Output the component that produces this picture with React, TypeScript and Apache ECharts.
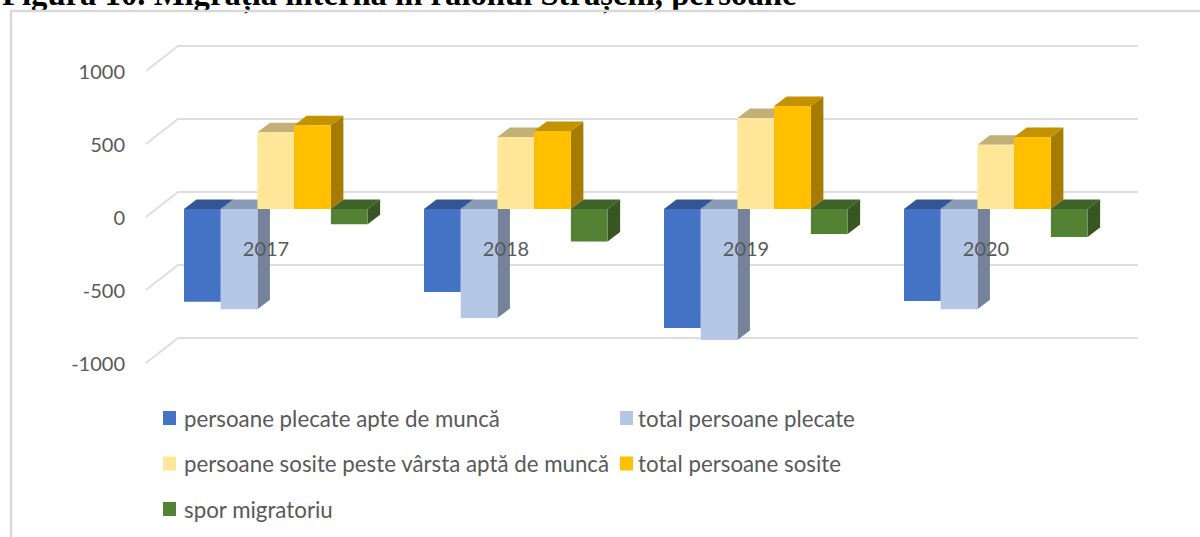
import React, { useEffect, useRef } from "react";
import * as echarts from "echarts";

const titleText = "Figura 10. Migrația internă în raionul Strășeni, persoane";
const years = ["2017", "2018", "2019", "2020"];
const gridTicks = [1000, 500, 0, -500, -1000];

const seriesNames = [
  "persoane plecate apte de muncă",
  "total persoane plecate",
  "persoane sosite peste vârsta aptă de muncă",
  "total persoane sosite",
  "spor migratoriu",
];
const plecateApte = [-635, -568, -815, -630];
const totalPlecate = [-687, -747, -897, -687];
const sositePeste = [525, 493, 623, 440];
const totalSosite = [573, 534, 705, 493];
const sporMigratoriu = [-105, -223, -171, -192];
const allValues = [plecateApte, totalPlecate, sositePeste, totalSosite, sporMigratoriu];

const frontColors = ["#4472c4", "#b4c7e7", "#ffe699", "#ffc000", "#548235"];
const topColors = ["#325594", "#8a9bb6", "#c2b076", "#c29200", "#3f6229"];
const sideColors = ["#2f5090", "#748399", "#b5a46e", "#a67c00", "#375623"];

const FONT = "Lato";
const TEXT = "#595959";

export default function App() {
  const ref = useRef<HTMLDivElement>(null);
  useEffect(() => {
    document.body.style.margin = "0";
    const chart = echarts.init(ref.current!, null, { renderer: "svg" });

    const barSeries = allValues.map((vals, s) => ({
      type: "custom",
      name: seriesNames[s],
      z: 3 + s,
      clip: false,
      itemStyle: { color: frontColors[s] },
      encode: { x: 0, y: 1 },
      data: vals.map((v, i) => [i, v]),
      renderItem: (params: any, api: any) => {
        const band = api.size([1, 0])[0];
        const p = api.coord([api.value(0), api.value(1)]);
        const z0 = api.coord([api.value(0), 0]);
        const w = band * 0.153;
        const dx = 10.5, dy = -8, ddx = 12.5, ddy = -9.5;
        const x0 = z0[0] - band / 2 + band * 0.1146 + dx + s * w;
        const x1 = x0 + w;
        const yz = z0[1] + dy;
        const yv = p[1] + dy;
        const top = Math.min(yz, yv);
        const bottom = Math.max(yz, yv);
        const poly = (points: number[][], fill: string) => ({
          type: "polygon",
          shape: { points },
          style: { fill },
        });
        return {
          type: "group",
          children: [
            poly([[x1, top], [x1 + ddx, top + ddy], [x1 + ddx, bottom + ddy], [x1, bottom]], sideColors[s]),
            poly([[x0, top], [x0 + ddx, top + ddy], [x1 + ddx, top + ddy], [x1, top]], topColors[s]),
            poly([[x0, top], [x1, top], [x1, bottom], [x0, bottom]], frontColors[s]),
          ],
        };
      },
    }));

    const wallSeries = {
      type: "custom",
      name: "grid",
      z: 1,
      clip: false,
      silent: true,
      encode: { y: 0 },
      data: gridTicks.map((t) => [t]),
      renderItem: (params: any, api: any) => {
        const r = params.coordSys;
        const y = api.coord([0, api.value(0)])[1];
        return {
          type: "polyline",
          shape: {
            points: [
              [r.x, y],
              [r.x + 32, y - 25],
              [r.x + r.width + 32, y - 25],
            ],
          },
          style: { fill: "none", stroke: "#dedede", lineWidth: 2 },
        };
      },
    };

    const legendBase = {
      orient: "vertical",
      icon: "rect",
      itemWidth: 13,
      itemHeight: 14,
      itemGap: 23.5,
      selectedMode: false,
    };
    const legendText = (padLeft: number) => ({
      fontFamily: FONT,
      fontSize: 22.3,
      color: TEXT,
      lineHeight: 20,
      padding: [0, 0, 0, padLeft],
    });

    chart.setOption({
      animation: false,
      backgroundColor: "#ffffff",
      title: {
        text: titleText,
        left: 2,
        top: -23,
        padding: 0,
        textStyle: {
          fontFamily: "Liberation Serif",
          fontWeight: "bold",
          fontSize: 32.7,
          color: "#000000",
        },
      },
      grid: { left: 146, top: 71, width: 960, height: 292 },
      xAxis: {
        type: "category",
        data: years,
        z: 20,
        offset: -146,
        axisLine: { show: false, onZero: false },
        axisTick: { show: false },
        axisLabel: { margin: 21, fontFamily: FONT, fontSize: 20, color: TEXT },
      },
      yAxis: {
        type: "value",
        min: -1000,
        max: 1000,
        interval: 500,
        splitLine: { show: false },
        axisLine: { show: false },
        axisTick: { show: false },
        axisLabel: {
          margin: 21,
          fontFamily: FONT,
          fontSize: 20,
          color: TEXT,
          formatter: (v: number) => String(v),
        },
      },
      legend: [
        { ...legendBase, left: 158, top: 402, textStyle: legendText(3), data: [seriesNames[0], seriesNames[2], seriesNames[4]] },
        { ...legendBase, left: 615, top: 402, textStyle: legendText(0), data: [seriesNames[1], seriesNames[3]] },
      ],
      series: [wallSeries, ...barSeries],
      graphic: [
        {
          type: "polyline",
          z: 50,
          silent: true,
          shape: { points: [[11, 537], [11, 11], [1200, 11]] },
          style: { fill: "none", stroke: "#d9d9d9", lineWidth: 2.5 },
        },
      ],
    });
    return () => chart.dispose();
  }, []);
  return <div ref={ref} style={{ width: 1200, height: 537 }} />;
}
